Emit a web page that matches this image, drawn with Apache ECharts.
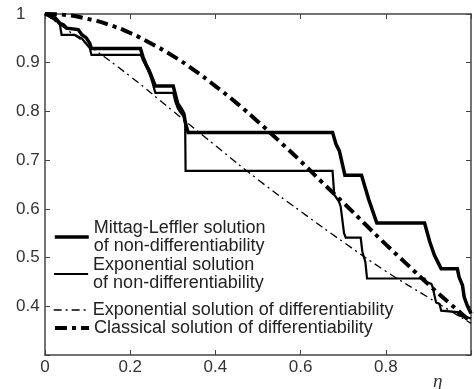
<!DOCTYPE html>
<html>
<head>
<meta charset="utf-8">
<script src="https://cdn.jsdelivr.net/npm/echarts@6/dist/echarts.min.js"></script>
<style>
  html, body { margin: 0; padding: 0; background: #fff; }
  #chart { width: 474px; height: 389px; }
</style>
</head>
<body>
<div id="chart"></div>
<script>
// Mittag-Leffler solution of non-differentiability (thick staircase)
const mlEta = [0, 0.009, 0.024, 0.035, 0.043, 0.051, 0.078, 0.086, 0.097, 0.105, 0.109, 0.224, 0.230, 0.237, 0.244, 0.252, 0.259, 0.301, 0.306, 0.312, 0.320, 0.326, 0.330, 0.336, 0.675, 0.683, 0.691, 0.704, 0.743, 0.747, 0.760, 0.779, 0.891, 0.903, 0.914, 0.926, 0.930, 0.968, 0.972, 0.980, 0.984, 0.991, 1.0]
const mlValue = [1, 0.998, 0.992, 0.981, 0.978, 0.971, 0.968, 0.958, 0.951, 0.940, 0.929, 0.929, 0.912, 0.897, 0.885, 0.868, 0.852, 0.852, 0.835, 0.815, 0.805, 0.795, 0.775, 0.757, 0.757, 0.733, 0.719, 0.669, 0.669, 0.657, 0.619, 0.571, 0.571, 0.533, 0.505, 0.484, 0.477, 0.477, 0.460, 0.443, 0.419, 0.402, 0.385]

// Exponential solution of non-differentiability (medium staircase)
const expNdEta = [0, 0.009, 0.028, 0.035, 0.039, 0.070, 0.086, 0.093, 0.105, 0.109, 0.225, 0.230, 0.237, 0.245, 0.252, 0.259, 0.301, 0.306, 0.312, 0.318, 0.325, 0.329, 0.330, 0.675, 0.679, 0.690, 0.694, 0.702, 0.706, 0.741, 0.745, 0.752, 0.756, 0.891, 0.895, 0.907, 0.910, 0.914, 0.918, 0.926, 0.930, 0.968, 0.972, 0.993, 1.0]
const expNdValue = [1, 0.995, 0.985, 0.978, 0.957, 0.957, 0.950, 0.943, 0.930, 0.916, 0.916, 0.905, 0.893, 0.878, 0.860, 0.838, 0.838, 0.820, 0.806, 0.798, 0.790, 0.775, 0.678, 0.678, 0.629, 0.615, 0.605, 0.550, 0.541, 0.541, 0.512, 0.491, 0.457, 0.457, 0.450, 0.446, 0.439, 0.436, 0.408, 0.405, 0.391, 0.388, 0.381, 0.377, 0.375]

// Exponential solution of differentiability (thin dash-dot)
const expDiffEta = [0, 0.1, 0.2, 0.3, 0.4, 0.5, 0.6, 0.7, 0.8, 0.9, 1.0]
const expDiffValue = [1, 0.937, 0.872, 0.801, 0.730, 0.660, 0.595, 0.532, 0.472, 0.418, 0.365]

// Classical solution of differentiability (thick dash-dot)
const classicEta = [0, 0.05, 0.1, 0.15, 0.2, 0.25, 0.3, 0.35, 0.4, 0.45, 0.5, 0.55, 0.6, 0.65, 0.7, 0.75, 0.8, 0.85, 0.9, 0.95, 1.0]
const classicValue = [1, 0.998, 0.990, 0.978, 0.961, 0.939, 0.914, 0.885, 0.852, 0.817, 0.779, 0.739, 0.698, 0.655, 0.613, 0.570, 0.527, 0.486, 0.445, 0.406, 0.368]

const xTicks = [0, 0.2, 0.4, 0.6, 0.8]
const yTicks = [0.4, 0.5, 0.6, 0.7, 0.8, 0.9, 1]

const names = [
  'Mittag-Leffler solution\nof non-differentiability',
  'Exponential solution\nof non-differentiability',
  'Exponential solution of differentiability',
  'Classical solution of differentiability',
]

const zip = (xs, ys) => xs.map((x, i) => [x, ys[i]])
const font = 'Liberation Sans, Arial, sans-serif'
const axisColor = '#444'

const lineStyles = [
  { color: '#000', width: 3.5, join: 'miter' },
  { color: '#000', width: 2.2, join: 'miter' },
  { color: '#000', width: 1.3, type: [8, 4, 2, 4] },
  { color: '#000', width: 4, type: [12, 5, 4, 5] },
]

const chart = echarts.init(document.getElementById('chart'))

const baseX = {
  type: 'value', min: 0, max: 1, interval: 0.2,
  axisLine: { show: true, onZero: false, lineStyle: { color: axisColor, width: 1.5 } },
  axisTick: { show: true, inside: true, length: 5, lineStyle: { color: axisColor } },
  splitLine: { show: false },
}
const baseY = {
  type: 'value', min: 0.3, max: 1, interval: 0.1,
  axisLine: { show: true, onZero: false, lineStyle: { color: axisColor, width: 1.5 } },
  axisTick: { show: true, inside: true, length: 5, lineStyle: { color: axisColor } },
  splitLine: { show: false },
}

// one legend per entry so the icon sits on the first text line
const legendTops = [210, 247, 301, 319]
const legends = names.map((n, i) => ({
  data: [n],
  orient: 'vertical',
  left: 53,
  top: legendTops[i],
  padding: 0,
  itemWidth: 34,
  itemHeight: 10,
  selectedMode: false,
  itemStyle: { opacity: 0 },
  lineStyle: { width: lineStyles[i].width, color: '#000', type: lineStyles[i].type || 'solid' },
  textStyle: {
    fontFamily: font, fontSize: 18, color: '#222', lineHeight: 18,
    padding: n.indexOf('\n') >= 0 ? [18, 0, 0, 0] : 0,
  },
}))

const option = {
  animation: false,
  color: ['#000'],
  title: {
    text: 'η', left: 428, top: 367,
    textStyle: { fontFamily: 'Liberation Serif, serif', fontStyle: 'italic', fontWeight: 'normal', fontSize: 19, color: '#333' },
  },
  legend: legends,
  grid: { left: 45, top: 14, width: 431, height: 341 },
  xAxis: [
    Object.assign({}, baseX, {
      position: 'bottom',
      axisLabel: {
        fontFamily: font, fontSize: 17, color: '#333', margin: 4,
        formatter: v => (xTicks.indexOf(Math.round(v * 10) / 10) >= 0 ? String(Math.round(v * 10) / 10) : ''),
      },
    }),
    Object.assign({}, baseX, { position: 'top', axisLabel: { show: false } }),
  ],
  yAxis: [
    Object.assign({}, baseY, {
      position: 'left',
      axisLabel: {
        fontFamily: font, fontSize: 17, color: '#333', margin: 29, align: 'left',
        formatter: v => {
          const r = Math.round(v * 10) / 10
          return yTicks.indexOf(r) >= 0 ? String(r) : ''
        },
      },
    }),
    Object.assign({}, baseY, { position: 'right', axisLabel: { show: false } }),
  ],
  series: [
    {
      name: names[3], type: 'line', data: zip(classicEta, classicValue), smooth: true,
      symbol: 'none', z: 2, itemStyle: { color: '#000' }, lineStyle: lineStyles[3],
    },
    {
      name: names[2], type: 'line', data: zip(expDiffEta, expDiffValue), smooth: true,
      symbol: 'none', z: 2, itemStyle: { color: '#000' }, lineStyle: lineStyles[2],
    },
    {
      name: names[1], type: 'line', data: zip(expNdEta, expNdValue),
      symbol: 'none', z: 3, itemStyle: { color: '#000' }, lineStyle: lineStyles[1],
    },
    {
      name: names[0], type: 'line', data: zip(mlEta, mlValue),
      symbol: 'none', z: 4, itemStyle: { color: '#000' }, lineStyle: lineStyles[0],
    },
  ],
}

chart.setOption(option)
</script>
</body>
</html>
